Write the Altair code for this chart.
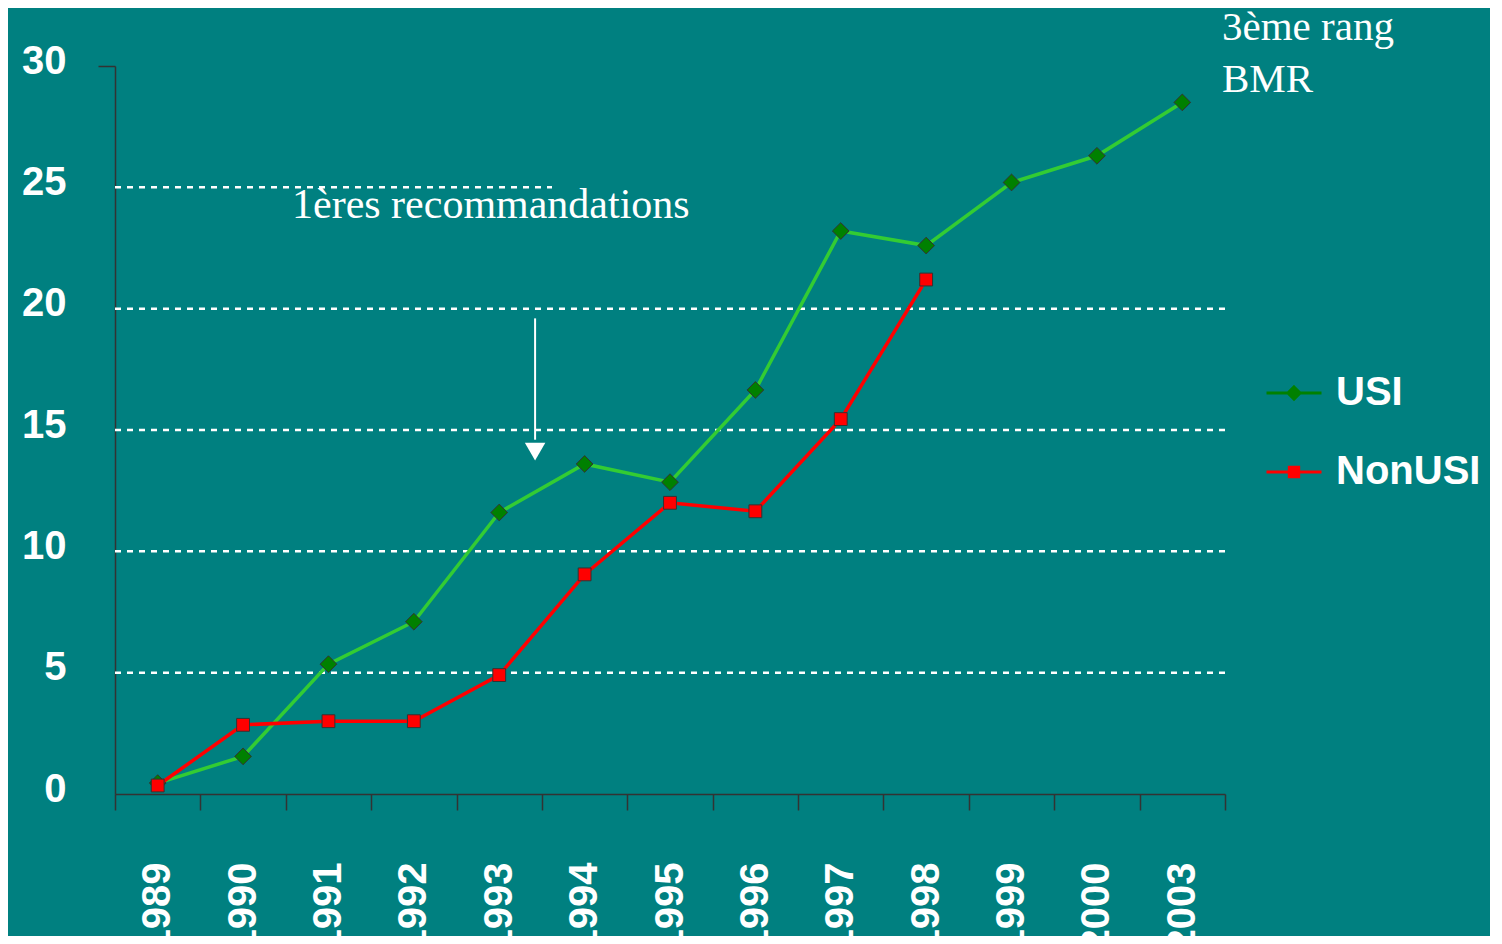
import altair as alt
import pandas as pd

# ---- data ----
years = ["1989", "1990", "1991", "1992", "1993", "1994", "1995",
         "1996", "1997", "1998", "1999", "2000", "2003"]
usi = [0.45, 1.55, 5.35, 7.1, 11.6, 13.6, 12.85, 16.65, 23.2, 22.6, 25.2, 26.3, 28.5]
nonusi = [0.35, 2.85, 3.0, 3.0, 4.9, 9.05, 12.0, 11.65, 15.45, 21.2]
series = ["USI", "NonUSI"]
y_ticks = [0, 5, 10, 15, 20, 25, 30]
grid_full = [5, 10, 15, 20]
grid_partial = [25]

note_reco = "1ères recommandations"
note_bmr = ["3ème rang", "BMR"]

# ---- tables ----
df_usi = pd.DataFrame({"year": years, "value": usi, "series": "USI"})
df_non = pd.DataFrame({"year": years[:len(nonusi)], "value": nonusi, "series": "NonUSI"})

BG = "#008080"
AXC = "#333333"
SANS = "Liberation Sans"
SERIF = "Liberation Serif"

x_scale = alt.Scale(type="band", domain=years, paddingInner=0, paddingOuter=0)
y_scale = alt.Scale(domain=[0, 30], nice=False, zero=True)

x_axis = alt.Axis(title=None, tickBand="extent", tickSize=16, tickColor=AXC, tickWidth=1.5,
                  domainColor=AXC, domainWidth=1.5, labelAngle=270, labelAlign="right",
                  labelBaseline="middle", labelFont=SANS, labelFontSize=40, labelFontWeight="bold",
                  labelColor="white", labelPadding=52, labelOverlap=False, grid=False)
y_axis = alt.Axis(title=None, values=y_ticks, ticks=True, tickSize=17, tickColor=AXC, tickWidth=1.5,
                  tickOpacity={"condition": {"test": "datum.value === 30", "value": 1}, "value": 0},
                  domainColor=AXC, domainWidth=1.5, labelFont=SANS, labelFontSize=40,
                  labelFontWeight="bold", labelColor="white", labelPadding=32, labelOffset=-5,
                  grid=False)


def X(field="year", bp=None):
    if bp is None:
        return alt.X(f"{field}:N", scale=x_scale, axis=x_axis)
    return alt.X(f"{field}:N", scale=x_scale, axis=x_axis, bandPosition=bp)


def Y(field="value"):
    return alt.Y(f"{field}:Q", scale=y_scale, axis=y_axis)


# gridlines
grid = alt.Chart(pd.DataFrame({"value": grid_full})).mark_rule(
    color="white", strokeWidth=2.5, strokeDash=[6, 6]
).encode(y=Y())
grid25 = alt.Chart(pd.DataFrame({"value": grid_partial})).mark_rule(
    color="white", strokeWidth=2.5, strokeDash=[6, 6]
).encode(y=Y(), x=alt.value(0), x2=alt.value(437))

usi_line = alt.Chart(df_usi).mark_line(color="#33cc33", strokeWidth=3.5).encode(x=X(), y=Y())
usi_pts = alt.Chart(df_usi).mark_point(shape="diamond", filled=True, fill="#008000",
                                        stroke=AXC, strokeWidth=1, size=280, opacity=1
                                        ).encode(x=X(), y=Y())
non_line = alt.Chart(df_non).mark_line(color="#ff0000", strokeWidth=3.5).encode(x=X(), y=Y())
non_pts = alt.Chart(df_non).mark_point(shape="square", filled=True, fill="#ff0000",
                                        stroke=AXC, strokeWidth=1, size=165, opacity=1
                                        ).encode(x=X(), y=Y())

# legend (symbols only, placed out of the clipped plot)
path_usi = "M-1,0L1,0M0,-0.22L0.22,0L0,0.22L-0.22,0Z"
path_non = "M-1,0L1,0M-0.17,-0.17L0.17,-0.17L0.17,0.17L-0.17,0.17Z"
leg = alt.Legend(title=None)
df_leg = pd.DataFrame({"year": [years[0], years[0]], "value": [-5, -5], "series": series})
legend_layer = alt.Chart(df_leg).mark_point(filled=True, clip=True, opacity=1, strokeWidth=3,
                                            size=3025).encode(
    x=X(), y=Y(),
    fill=alt.Fill("series:N", scale=alt.Scale(domain=series, range=["#008000", "#ff0000"]), legend=leg),
    stroke=alt.Stroke("series:N", scale=alt.Scale(domain=series, range=["#008000", "#ff0000"]), legend=leg),
    shape=alt.Shape("series:N", scale=alt.Scale(domain=series, range=[path_usi, path_non]), legend=leg),
)

# annotations
reco = alt.Chart(pd.DataFrame({"year": ["1991"], "value": [23.74], "label": [note_reco]})).mark_text(
    align="left", baseline="alphabetic", font=SERIF, fontSize=42, color="white"
).encode(x=X(bp=0.073), y=Y(), text="label:N")

bmr = alt.Chart(pd.DataFrame({"year": ["2003", "2003"], "value": [31.07, 28.93], "label": note_bmr})).mark_text(
    align="left", baseline="alphabetic", font=SERIF, fontSize=41, color="white", clip=False
).encode(x=X(bp=0.965), y=Y(), text="label:N")

arrow_line = alt.Chart(pd.DataFrame({"year": ["1993"], "value": [19.6], "value2": [14.6]})).mark_rule(
    color="white", strokeWidth=2
).encode(x=X(bp=0.92), y=Y(), y2="value2:Q")
arrow_head = alt.Chart(pd.DataFrame({"year": ["1993"], "value": [14.11]})).mark_point(
    shape="triangle-down", filled=True, color="white", size=420, opacity=1
).encode(x=X(bp=0.92), y=Y())

chart = alt.layer(
    grid, grid25, arrow_line, arrow_head, reco, bmr,
    usi_line, usi_pts, non_line, non_pts, legend_layer
).properties(
    width=1110, height=728,
    autosize=alt.AutoSizeParams(type="none"),
    padding={"left": 107, "top": 58, "right": 265, "bottom": 142},
    background=BG,
).configure_view(stroke=None).configure_legend(
    orient="none", legendX=1150, legendY=298, padding=0, rowPadding=30,
    labelFont=SANS, labelFontSize=40, labelFontWeight="bold", labelColor="white",
    labelOffset=13, labelLimit=400, symbolStrokeWidth=3, symbolSize=3025, symbolOpacity=1,
)

chart.save("out.html", embed_options={"renderer": "svg", "actions": False})
